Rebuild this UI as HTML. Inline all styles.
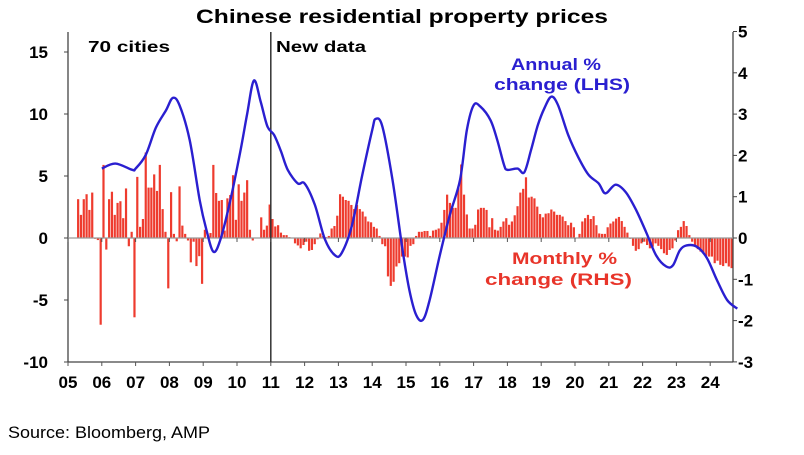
<!DOCTYPE html>
<html><head><meta charset="utf-8"><style>
body{margin:0;background:#fff;width:804px;height:450px;overflow:hidden;font-family:"Liberation Sans",sans-serif}
svg text{font-family:"Liberation Sans",sans-serif}
</style></head><body>
<svg id="chart" width="804" height="450" viewBox="0 0 804 450" xmlns="http://www.w3.org/2000/svg">
<text x="196" y="23" font-size="19" font-weight="bold" textLength="412" lengthAdjust="spacingAndGlyphs">Chinese residential property prices</text>
<g id="bars"></g>
<g id="axes"></g>
<path id="line" fill="none" stroke="#2a1fd0" stroke-width="2.4"/>
<text x="88" y="52" font-size="16" font-weight="bold" textLength="82" lengthAdjust="spacingAndGlyphs">70 cities</text>
<text x="276" y="52" font-size="16" font-weight="bold" textLength="90" lengthAdjust="spacingAndGlyphs">New data</text>
<text x="511" y="70" font-size="17" font-weight="bold" fill="#2a1fd0" textLength="90" lengthAdjust="spacingAndGlyphs">Annual %</text>
<text x="494" y="90" font-size="17" font-weight="bold" fill="#2a1fd0" textLength="136" lengthAdjust="spacingAndGlyphs">change (LHS)</text>
<text x="512" y="264" font-size="17" font-weight="bold" fill="#e8352a" textLength="105" lengthAdjust="spacingAndGlyphs">Monthly %</text>
<text x="485" y="285" font-size="17" font-weight="bold" fill="#e8352a" textLength="147" lengthAdjust="spacingAndGlyphs">change (RHS)</text>
<text x="8" y="438" font-size="17" textLength="202" lengthAdjust="spacingAndGlyphs">Source: Bloomberg, AMP</text>
</svg>
<script>
const lineYears=[2006.0,2006.4,2006.9,2007.0,2007.3,2007.6,2007.9,2008.1,2008.3,2008.6,2008.9,2009.1,2009.3,2009.5,2009.8,2010.1,2010.3,2010.5,2010.7,2010.9,2011.1,2011.3,2011.5,2011.8,2012.0,2012.3,2012.6,2012.9,2013.1,2013.4,2013.7,2014.0,2014.1,2014.3,2014.6,2014.9,2015.1,2015.3,2015.5,2015.7,2016.0,2016.3,2016.6,2016.8,2017.0,2017.2,2017.5,2017.7,2017.9,2018.0,2018.3,2018.5,2018.7,2018.9,2019.1,2019.3,2019.5,2019.8,2020.1,2020.4,2020.7,2020.9,2021.2,2021.5,2021.8,2022.1,2022.4,2022.7,2022.9,2023.1,2023.3,2023.6,2023.9,2024.2,2024.5,2024.8];
const lineValues=[5.6,6.0,5.5,5.6,6.7,8.9,10.3,11.3,10.7,7.9,3.0,0.6,-1.1,-0.2,3.0,7.0,10.0,12.7,11.0,9.0,8.3,7.0,5.5,4.4,4.4,2.7,-0.1,-1.4,-1.2,1.0,5.0,8.7,9.6,9.0,4.7,-1.0,-4.2,-6.2,-6.6,-5.0,-1.4,1.9,4.7,8.7,10.7,10.6,9.5,7.9,5.9,5.5,5.6,5.3,7.1,9.1,10.5,11.4,10.7,8.3,6.5,5.1,4.4,3.6,4.3,3.7,2.3,0.5,-1.4,-2.3,-2.2,-1.0,-0.6,-0.7,-1.6,-3.4,-5.0,-5.7];
const barStart=2005.3;
const barValues=[.94,.56,.94,1.06,.68,1.1,-0.02,-0.05,-2.1,1.77,-0.28,.94,1.12,.56,.85,.89,.48,1.2,-0.2,.15,-1.92,1.48,.27,.46,2.07,1.22,1.22,1.54,1.14,1.77,.7,.15,-1.22,1.11,.1,-0.08,1.25,.3,.1,-0.06,-0.59,-0.09,-0.68,-0.44,-1.11,.2,0,.12,1.77,1.09,.9,.92,.18,.96,1.04,1.52,.44,1.3,.9,1.1,1.4,.2,-0.06,0,0,.5,.2,.3,.81,.46,.28,.31,
.13,.07,.07,.02,0,-0.13,-0.18,-0.25,-0.17,-0.09,-0.31,-0.29,-0.15,-0.03,.11,.05,.02,.05,.23,.29,.54,1.06,1.0,.92,.9,.8,.7,.8,.7,.64,.52,.4,.38,.27,.23,.05,-0.15,-0.2,-0.93,-1.16,-1.06,-0.69,-0.61,-0.45,-0.45,-0.47,-0.19,-0.15,.05,.15,.15,.17,.17,.05,.18,.2,.23,.37,.68,1.05,.85,.73,.73,1.24,1.78,1.05,.57,.23,.23,.32,.69,.73,.73,.68,.26,.48,.2,.18,.27,.4,.48,.32,
.4,.55,.77,1.1,1.19,1.47,.98,1.0,.96,.76,.58,.5,.59,.6,.69,.64,.56,.56,.52,.41,.31,.37,.26,0,.1,.4,.48,.56,.46,.53,.31,.11,.1,.1,.26,.35,.4,.47,.51,.41,.27,.13,-0.02,-0.19,-0.31,-0.27,-0.13,-0.09,-0.17,-0.25,-0.21,-0.13,-0.19,-0.27,-0.37,-0.41,-0.29,-0.25,-0.06,.19,.27,.41,.29,.07,-0.09,-0.17,-0.27,-0.33,-0.37,-0.43,-0.45,-0.45,-0.61,-0.55,-0.65,-0.68,-0.61,-0.69,-0.73];
const leftTicks=[15,10,5,0,-5,-10];
const rightTicks=[5,4,3,2,1,0,-1,-2,-3];
const yearLabels=["05","06","07","08","09","10","11","12","13","14","15","16","17","18","19","20","21","22","23","24"];

const NS="http://www.w3.org/2000/svg";
const X0=68,X1=733,YT=32,YB=362,Y0=238;
const xs=y=>X0+(y-2005)*33.8;
const yl=v=>Y0-v*12.4;
const yr=v=>Y0-v*41.3;
function mk(t,a,p){const e=document.createElementNS(NS,t);for(const k in a)e.setAttribute(k,a[k]);p.appendChild(e);return e;}
const bars=document.getElementById('bars'),axes=document.getElementById('axes');
barValues.forEach((v,i)=>{
  const x=xs(barStart+i/12);
  const r=mk('rect',{x:x-1.1,y:Math.min(yr(v),Y0),width:2.2,height:Math.abs(yr(v)-Y0),fill:'#ee3b2e'},bars);
  
  
});
let e=mk('line',{x1:X0,y1:YT,x2:X0,y2:YB,stroke:'#444','stroke-width':1.3},axes);

e=mk('line',{x1:X1,y1:YT,x2:X1,y2:YB,stroke:'#444','stroke-width':1.3},axes);

e=mk('line',{x1:X0,y1:YB,x2:X1,y2:YB,stroke:'#444','stroke-width':1.3},axes);

e=mk('line',{x1:X0,y1:Y0,x2:X1,y2:Y0,stroke:'#999','stroke-width':1.2},axes);

e=mk('line',{x1:xs(2011),y1:YT,x2:xs(2011),y2:YB,stroke:'#333','stroke-width':1.5},axes);

leftTicks.forEach(v=>{
  mk('line',{x1:X0-4,y1:yl(v),x2:X0,y2:yl(v),stroke:'#444'},axes);
  const t=mk('text',{x:X0-20,y:yl(v)+6,'text-anchor':'end','font-size':17,'font-weight':'bold'},axes);t.textContent=v;
  
});
rightTicks.forEach(v=>{
  mk('line',{x1:X1,y1:yr(v),x2:X1+4,y2:yr(v),stroke:'#444'},axes);
  const t=mk('text',{x:X1+5,y:yr(v)+6,'font-size':17,'font-weight':'bold'},axes);t.textContent=v;
  
});
yearLabels.forEach((s,i)=>{
  const x=xs(2005+i);
  mk('line',{x1:x,y1:Y0,x2:x,y2:Y0+4,stroke:'#555'},axes);
  mk('line',{x1:x,y1:YB,x2:x,y2:YB+4,stroke:'#555'},axes);
  const t=mk('text',{x:x,y:388,'text-anchor':'middle','font-size':17,'font-weight':'bold'},axes);t.textContent=s;
  
});
const P=lineYears.map((y,i)=>[xs(y),yl(lineValues[i])]);
let d='M'+P[0][0]+','+P[0][1];
for(let i=0;i<P.length-1;i++){
  const p0=P[Math.max(0,i-1)],p1=P[i],p2=P[i+1],p3=P[Math.min(P.length-1,i+2)];
  const c1=[p1[0]+(p2[0]-p0[0])/6,p1[1]+(p2[1]-p0[1])/6],c2=[p2[0]-(p3[0]-p1[0])/6,p2[1]-(p3[1]-p1[1])/6];
  d+=' C'+c1+' '+c2+' '+p2;
}
document.getElementById('line').setAttribute('d',d);
</script>
</body></html>
